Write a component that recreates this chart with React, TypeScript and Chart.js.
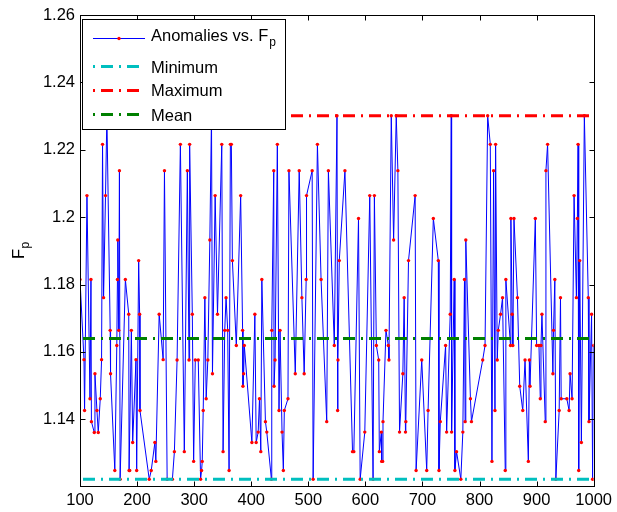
import React, { useEffect, useRef } from "react";
import { Chart, registerables } from "chart.js";

Chart.register(...registerables);

// ---- data ----
const FP_X: number[] = [
  100, 107, 108, 112.2, 117.5, 119.2, 120, 125.0, 126.2, 129.7, 132.0, 135.5, 137.8, 139.5, 141.3, 144.7, 147.1,
  152.9, 153.5, 161.0, 164.5, 165.6, 166.2, 167.9, 169.1, 170.3, 179.5, 185.4, 186.0, 187.1, 190.0, 192.3, 198.1,
  199.3, 202.8, 204.5, 205.1, 221.3, 224.8, 231.2, 232.9, 238.7, 245.7, 248.0,
  252.7, 261.9, 265.4, 270.1, 275.9, 282.8, 288.1, 291.0, 292.1, 296.8, 299.1, 302.0, 307.2, 311.3, 313.0, 314.2,
  315.9, 318.8, 321.1, 324.0, 327.5, 330.4, 332.1, 336.8, 340.9, 348.4, 350.7, 353.6, 355.9, 358.8, 361.2, 363.5,
  365.2, 367.0, 373.9, 381.5, 384.9, 385.5, 386.7, 387.9, 401.2,
  406.4, 408.7, 412.2, 414.5, 416.8, 418.6, 424.9, 427.3, 435.4, 436.0, 439.5, 440.0, 441.8, 445.8, 448.7, 450.5,
  454.0, 456.3, 458.0, 464.4, 466.1, 477.2, 484.1, 488.8, 492.8, 496.3, 496.9, 506.8, 508.5, 516.0, 522.4, 532.3,
  535.2, 545.6, 550.3, 551.4, 552.0,
  554.3, 564.2, 577.5, 579.8, 588.0, 590.9, 599.0, 607.7, 613.5, 615.8, 619.3, 623.4, 624.5, 628.0, 628.6, 630.3,
  630.9, 636.1, 640.2, 641.3, 645.4, 649.5, 654.1, 657.0, 659.9, 665.7, 668.0, 670.3, 670.9, 675.6, 687.2, 688.9,
  698.8,
  707.5, 709.9, 719.1, 727.8, 729.0, 731.3, 740.6, 742.4, 748.7, 750.5, 751.1, 755.7, 756.9, 759.8, 767.3, 770.8,
  773.7, 774.8, 776.0, 784.1, 785.9, 805.6, 809.7, 814.3, 818.9, 821.8, 824.7, 827.1, 828.2, 831.1, 832.9, 836.9,
  840.4, 845.1, 846.2,
  854.3, 855.0, 857.2, 858.4, 860.4, 866.5, 870.5, 875.8, 879.8, 885.6, 887.4, 888.5, 897.8, 900.1, 904.2, 906.5,
  907.7, 909.4, 915.2, 916.4, 919.3, 928.6, 929.7, 932.0, 933.8, 939.6, 941.9, 943.1, 953.0, 957.0, 958.7, 962.2,
  965.7, 969.8, 971.5, 972.7, 973.8, 975.6, 978.5, 983.7, 990.6, 991.8, 996.4, 998.2, 1000,
];

const FP_Y: number[] = [
  1.1815, 1.1577, 1.1426, 1.2064, 1.1461, 1.1815, 1.1393, 1.1361, 1.1535, 1.1426, 1.1361, 1.1461, 1.1577, 1.2216, 1.1761, 1.2064, 1.2301,
  1.1664, 1.1535, 1.1248, 1.1619, 1.1815, 1.1932, 1.1664, 1.2138, 1.1222, 1.1815, 1.1712, 1.1248, 1.1248, 1.1664, 1.1331, 1.1577,
  1.1248, 1.1871, 1.1712, 1.1426, 1.1222, 1.1248, 1.1331, 1.1275, 1.1712, 1.1577, 1.2138,
  1.1222, 1.1222, 1.1304, 1.1576, 1.2216, 1.1304, 1.2138, 1.1576, 1.2216, 1.1712, 1.1275, 1.1576, 1.1576, 1.1222, 1.1248, 1.1275,
  1.1426, 1.1761, 1.1461, 1.1576, 1.1932, 1.2301, 1.1535, 1.2064, 1.1712, 1.2216, 1.1304, 1.1664, 1.1761, 1.1664, 1.1248, 1.2216,
  1.2216, 1.1871, 1.1619, 1.2064, 1.1664, 1.1498, 1.1535, 1.1619, 1.1331,
  1.1712, 1.1331, 1.1362, 1.1461, 1.1304, 1.1815, 1.1393, 1.1362, 1.1222, 1.1664, 1.2138, 1.1498, 1.1576, 1.2216, 1.1426, 1.1664,
  1.1362, 1.1248, 1.1426, 1.1461, 1.2138, 1.1535, 1.2138, 1.1761, 1.1535, 1.1815, 1.2064, 1.2138, 1.1222, 1.2216, 1.1815, 1.1393,
  1.2138, 1.1619, 1.2301, 1.1426, 1.1576,
  1.1871, 1.2138, 1.1304, 1.1304, 1.1996, 1.1222, 1.1362, 1.2064, 1.1222, 1.2064, 1.1619, 1.1576, 1.1304, 1.1362, 1.1275, 1.1275,
  1.1393, 1.1664, 1.1619, 1.1576, 1.2301, 1.1932, 1.2301, 1.2138, 1.1362, 1.1535, 1.1761, 1.1362, 1.1393, 1.1871, 1.2064, 1.1248,
  1.1576,
  1.1248, 1.1426, 1.1996, 1.1871, 1.1248, 1.1393, 1.1619, 1.1362, 1.1712, 1.2301, 1.1362, 1.1815, 1.1248, 1.1304, 1.1222, 1.1362,
  1.1815, 1.1393, 1.1932, 1.1461, 1.1393, 1.1576, 1.1619, 1.2301, 1.2216, 1.1275, 1.2138, 1.1426, 1.2216, 1.1576, 1.1664, 1.1712,
  1.1761, 1.1248, 1.1815,
  1.1619, 1.1996, 1.1712, 1.1619, 1.1996, 1.1761, 1.1498, 1.1426, 1.1576, 1.1275, 1.1576, 1.1498, 1.1996, 1.1619, 1.1619, 1.1461,
  1.1619, 1.1712, 1.1393, 1.2138, 1.2216, 1.1535, 1.1664, 1.1815, 1.1222, 1.1426, 1.1761, 1.1461, 1.1461, 1.1426, 1.1535, 1.1461,
  1.2064, 1.1761, 1.1996, 1.2216, 1.1248, 1.1871, 1.1331, 1.2301, 1.1761, 1.1393, 1.1712, 1.1222, 1.1619,
];

const MIN_F = 1.1222;
const MAX_F = 1.2301;
const MEAN_F = 1.164;

const X_RANGE = [100, 1000];
const Y_RANGE = [1.1202, 1.26];
const X_TICKS = [100, 200, 300, 400, 500, 600, 700, 800, 900, 1000];
const Y_TICKS = [1.14, 1.16, 1.18, 1.2, 1.22, 1.24, 1.26];

const LEGEND_LABELS = ["Anomalies vs. F", "Minimum", "Maximum", "Mean"];
const Y_LABEL = "F";
const SUB = "p";

const FONT_FAMILY = "'Liberation Sans', Arial, Helvetica, sans-serif";
const DASH = [12, 6, 2, 6];
const DASH_OFFSET = 23;
const C_BLUE = "#0000FF";
const C_RED = "#FF0000";
const C_CYAN = "#00BFBF";
const C_GREEN = "#008000";

const decorPlugin = {
  id: "matlabDecor",
  afterDraw(chart: any) {
    const { ctx, chartArea: a, scales } = chart;
    const xs = scales.x;
    const ys = scales.y;
    ctx.save();
    ctx.strokeStyle = "#000";
    ctx.lineWidth = 1;
    ctx.setLineDash([]);
    const L = Math.round(a.left) + 0.5;
    const R = Math.round(a.right) + 0.5;
    const T = Math.round(a.top) + 0.5;
    const B = Math.round(a.bottom) + 0.5;
    const TL = 5;
    ctx.strokeRect(L, T, R - L, B - T);
    ctx.beginPath();
    X_TICKS.forEach((v) => {
      const px = Math.round(xs.getPixelForValue(v)) + 0.5;
      ctx.moveTo(px, B);
      ctx.lineTo(px, B - TL);
      ctx.moveTo(px, T);
      ctx.lineTo(px, T + TL);
    });
    Y_TICKS.forEach((v) => {
      const py = Math.round(ys.getPixelForValue(v)) + 0.5;
      ctx.moveTo(L, py);
      ctx.lineTo(L + TL, py);
      ctx.moveTo(R, py);
      ctx.lineTo(R - TL, py);
    });
    ctx.stroke();

    // legend box
    const lx = 82.5, ly = 19.5, lw = 203, lh = 110;
    ctx.fillStyle = "#fff";
    ctx.fillRect(lx, ly, lw, lh);
    ctx.strokeRect(lx, ly, lw, lh);

    const sx0 = 93, sx1 = 145, tx = 151;
    const rows = [
      { lineY: 38.5, base: 40.5 },
      { lineY: 66.5, base: 72.5 },
      { lineY: 90.5, base: 96 },
      { lineY: 114.5, base: 120.5 },
    ];
    ctx.strokeStyle = C_BLUE;
    ctx.lineWidth = 1;
    ctx.beginPath();
    ctx.moveTo(sx0, rows[0].lineY);
    ctx.lineTo(sx1, rows[0].lineY);
    ctx.stroke();
    ctx.fillStyle = C_RED;
    ctx.beginPath();
    ctx.arc((sx0 + sx1) / 2, rows[0].lineY, 1.7, 0, Math.PI * 2);
    ctx.fill();
    const cols = [C_CYAN, C_RED, C_GREEN];
    for (let i = 1; i < 4; i++) {
      ctx.strokeStyle = cols[i - 1];
      ctx.lineWidth = 3;
      ctx.lineCap = "butt";
      ctx.setLineDash(DASH);
      ctx.lineDashOffset = 18;
      ctx.beginPath();
      ctx.moveTo(sx0, rows[i].lineY);
      ctx.lineTo(sx1, rows[i].lineY);
      ctx.stroke();
    }
    ctx.setLineDash([]);
    ctx.fillStyle = "#000";
    ctx.textAlign = "left";
    ctx.textBaseline = "alphabetic";
    ctx.font = `16.5px ${FONT_FAMILY}`;
    LEGEND_LABELS.forEach((t, i) => {
      ctx.fillText(t, tx, rows[i].base);
    });
    const w0 = ctx.measureText(LEGEND_LABELS[0]).width;
    ctx.font = `12px ${FONT_FAMILY}`;
    ctx.fillText(SUB, tx + w0 + 1, rows[0].base + 5);

    // y axis label F_p (rotated)
    ctx.save();
    ctx.translate(24, 259);
    ctx.rotate(-Math.PI / 2);
    ctx.font = `16.5px ${FONT_FAMILY}`;
    ctx.fillText(Y_LABEL, 0, 0);
    const wf = ctx.measureText(Y_LABEL).width;
    ctx.font = `12px ${FONT_FAMILY}`;
    ctx.fillText(SUB, wf + 0.5, 5);
    ctx.restore();

    ctx.restore();
  },
};

export default function App() {
  const ref = useRef<HTMLCanvasElement | null>(null);
  useEffect(() => {
    if (!ref.current) return;
    const pts = FP_X.map((x, i) => ({ x, y: FP_Y[i] }));
    const hline = (v: number) => [
      { x: X_RANGE[0], y: v },
      { x: X_RANGE[1], y: v },
    ];
    const lineStyle = (color: string, order: number) => ({
      borderColor: color,
      backgroundColor: color,
      borderWidth: 3,
      borderDash: DASH,
      borderDashOffset: DASH_OFFSET,
      borderCapStyle: "butt" as const,
      pointRadius: 0,
      pointHoverRadius: 0,
      fill: false,
      tension: 0,
      order,
    });
    const font = { family: FONT_FAMILY, size: 16.5 };
    const chart = new Chart(ref.current, {
      type: "line",
      data: {
        datasets: [
          {
            label: "Anomalies vs. Fp",
            data: pts,
            borderColor: C_BLUE,
            borderWidth: 1,
            pointRadius: 1.7,
            pointHoverRadius: 1.7,
            pointBackgroundColor: C_RED,
            pointBorderWidth: 0,
            pointBorderColor: C_RED,
            fill: false,
            tension: 0,
            order: 4,
          },
          { label: "Minimum", data: hline(MIN_F), ...lineStyle(C_CYAN, 3) },
          { label: "Maximum", data: hline(MAX_F), ...lineStyle(C_RED, 2) },
          { label: "Mean", data: hline(MEAN_F), ...lineStyle(C_GREEN, 1) },
        ],
      },
      options: {
        responsive: false,
        maintainAspectRatio: false,
        devicePixelRatio: 1,
        animation: false,
        events: [],
        layout: { padding: { top: 15, right: 20, left: 0, bottom: 0 } },
        plugins: { legend: { display: false }, tooltip: { enabled: false } },
        scales: {
          x: {
            type: "linear",
            min: X_RANGE[0],
            max: X_RANGE[1],
            afterBuildTicks: (s: any) => {
              s.ticks = X_TICKS.map((v) => ({ value: v }));
            },
            afterFit: (s: any) => {
              s.height = 26;
            },
            grid: { display: false, drawTicks: false },
            border: { display: false },
            ticks: {
              autoSkip: false,
              maxRotation: 0,
              padding: 5,
              color: "#000",
              font,
              callback: (v: any) => String(v),
            },
          },
          y: {
            type: "linear",
            min: Y_RANGE[0],
            max: Y_RANGE[1],
            afterBuildTicks: (s: any) => {
              s.ticks = Y_TICKS.map((v) => ({ value: v }));
            },
            afterFit: (s: any) => {
              s.width = 80;
            },
            grid: { display: false, drawTicks: false },
            border: { display: false },
            ticks: {
              padding: 5,
              color: "#000",
              font,
              callback: (v: any) => Number(v).toFixed(2).replace(/0$/, ""),
            },
          },
        },
      },
      plugins: [decorPlugin],
    });
    return () => chart.destroy();
  }, []);
  return (
    <div style={{ position: "absolute", left: 0, top: 0, width: 617, height: 512, background: "#fff" }}>
      <canvas ref={ref} width={617} height={512} style={{ display: "block", width: 617, height: 512 }} />
    </div>
  );
}
